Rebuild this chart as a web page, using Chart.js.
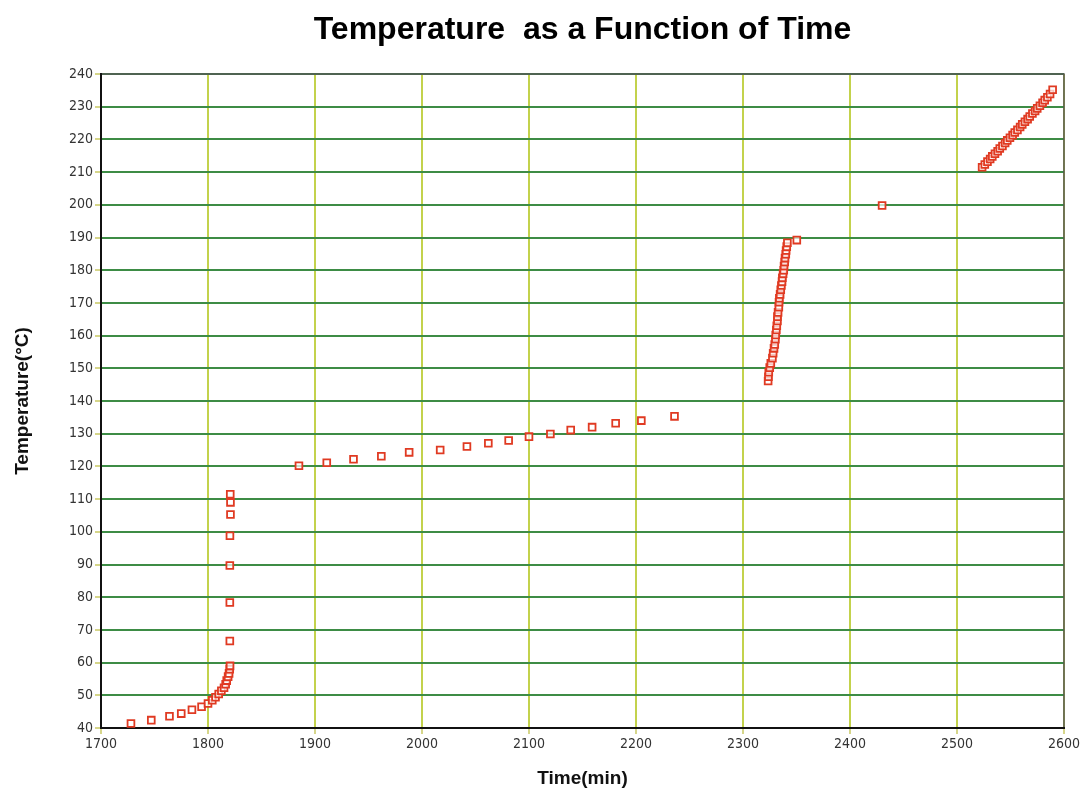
<!DOCTYPE html>
<html>
<head>
<meta charset="utf-8">
<title>Temperature as a Function of Time</title>
<script src="https://cdn.jsdelivr.net/npm/chart.js@4/dist/chart.umd.min.js"></script>
<style>
  html, body { margin: 0; padding: 0; background: #ffffff; }
  #wrap { width: 1082px; height: 790px; position: relative; }
</style>
</head>
<body>
<div id="wrap"><canvas id="chart" width="1082" height="790"></canvas></div>
<script>
// Logged furnace readings: time (min) and temperature (°C)
const timeMin = [
  1728, 1747, 1764, 1775, 1785, 1794, 1800, 1804, 1807, 1810, 1812.5, 1815, 1816.5,
  1817.5, 1818.8, 1819.7, 1820.3, 1820.6, 1820.4, 1820.4, 1820.4, 1820.5, 1821, 1821, 1820.8,
  1885, 1911, 1936, 1962, 1988, 2017, 2042, 2062, 2081, 2100, 2120, 2139, 2159, 2181, 2205, 2236,
  2323.5, 2323.8, 2324.1, 2325, 2326, 2327.5, 2328.2, 2329, 2329.7, 2330.3, 2330.6, 2331.2,
  2331.6, 2332.2, 2332.2, 2332.8, 2333.5, 2333.7, 2334, 2334.7, 2335.3, 2335.9, 2336.5, 2336.8,
  2337.5, 2338.1, 2338.4, 2339, 2339.3, 2340, 2340.3, 2340.9, 2341.5, 2350.3,
  2430,
  2523.5, 2526, 2528.5, 2531, 2533, 2535.5, 2538, 2540, 2542.5, 2545, 2547, 2549.5, 2552, 2554,
  2556.5, 2559, 2561, 2563.5, 2566, 2568, 2570.5, 2573, 2575, 2577.5, 2580, 2582, 2584.5, 2587, 2589.4
];
const tempC = [
  41.4, 42.4, 43.6, 44.4, 45.6, 46.5, 47.5, 48.5, 49.4, 50.4, 51.4, 52.3, 53.4,
  54.5, 55.7, 56.7, 58.0, 59.0, 66.6, 78.4, 89.7, 98.8, 105.3, 109.0, 111.5,
  120.2, 121.1, 122.2, 123.1, 124.3, 125.0, 126.1, 127.1, 127.9, 129.1, 129.9, 131.1, 132.0, 133.2, 134.0, 135.3,
  146.1, 147.4, 148.8, 150.2, 151.5, 153.1, 154.6, 156.1, 157.3, 158.9, 160.2, 161.7,
  163.0, 164.5, 165.8, 167.1, 168.7, 170.2, 171.4, 172.6, 174.0, 175.3, 176.5, 177.7,
  178.9, 180.0, 181.3, 182.5, 183.7, 184.9, 186.0, 187.2, 188.4, 189.2,
  199.8,
  211.5, 212.3, 213.2, 214.0, 214.8, 215.6, 216.4, 217.2, 218.0, 218.9, 219.7, 220.5, 221.3, 222.1,
  222.9, 223.8, 224.6, 225.4, 226.2, 227.0, 227.9, 228.7, 229.5, 230.3, 231.2, 232.0, 232.9, 233.9, 235.2
];

// Axis ticks
const xTicks = [1700, 1800, 1900, 2000, 2100, 2200, 2300, 2400, 2500, 2600];
const yTicks = [40, 50, 60, 70, 80, 90, 100, 110, 120, 130, 140, 150, 160, 170, 180, 190, 200, 210, 220, 230, 240];

const points = timeMin.map((t, i) => ({ x: t, y: tempC[i] }));

const tickFont = { family: "'DejaVu Sans Condensed', 'DejaVu Sans', sans-serif", size: 14 };
const titleFamily = "'Liberation Sans', Arial, sans-serif";

// Plot frame: black axis lines on the left and bottom, grey on top and right
const framePlugin = {
  id: 'plotFrame',
  beforeDatasetsDraw(chart) {
    const { ctx, chartArea: a } = chart;
    ctx.save();
    ctx.lineCap = 'square';
    ctx.strokeStyle = '#555555';
    ctx.lineWidth = 1.5;
    ctx.beginPath();
    ctx.moveTo(a.left, a.top);
    ctx.lineTo(a.right, a.top);
    ctx.lineTo(a.right, a.bottom);
    ctx.stroke();
    ctx.strokeStyle = '#111111';
    ctx.lineWidth = 2;
    ctx.beginPath();
    ctx.moveTo(a.left, a.top);
    ctx.lineTo(a.left, a.bottom);
    ctx.lineTo(a.right, a.bottom);
    ctx.stroke();
    ctx.restore();
  }
};

new Chart(document.getElementById('chart'), {
  type: 'scatter',
  data: {
    datasets: [{
      label: 'Temperature',
      data: points,
      showLine: false,
      pointStyle: 'rect',
      pointRadius: 4.8,
      pointHoverRadius: 4.8,
      borderWidth: 1.8,
      borderColor: '#e03a22',
      backgroundColor: 'rgba(255,255,255,0.7)'
    }]
  },
  options: {
    responsive: false,
    animation: false,
    events: [],
    layout: { padding: { left: 0, right: 17, top: 0, bottom: 0 } },
    plugins: {
      legend: { display: false },
      tooltip: { enabled: false },
      title: {
        display: true,
        fullSize: false,
        text: 'Temperature  as a Function of Time',
        color: '#000000',
        font: { family: titleFamily, size: 32, weight: 'bold', lineHeight: 1.2 },
        padding: { top: 11, bottom: 24.6 }
      }
    },
    scales: {
      x: {
        type: 'linear',
        min: xTicks[0],
        max: xTicks[xTicks.length - 1],
        afterBuildTicks(scale) { scale.ticks = xTicks.map(v => ({ value: v })); },
        afterFit(scale) { scale.height = 62; },
        ticks: {
          font: tickFont, color: '#333333', padding: 2, maxRotation: 0, autoSkip: false,
          callback: (v) => String(v)
        },
        grid: { color: '#c3d24c', lineWidth: 2, tickLength: 6, tickColor: '#d6d68a', drawTicks: true },
        border: { display: false },
        title: {
          display: true,
          text: 'Time(min)',
          color: '#111111',
          font: { family: titleFamily, size: 19, weight: 'bold', lineHeight: 1.2 },
          padding: { top: 0, bottom: 0 }
        }
      },
      y: {
        type: 'linear',
        min: yTicks[0],
        max: yTicks[yTicks.length - 1],
        afterBuildTicks(scale) { scale.ticks = yTicks.map(v => ({ value: v })); },
        afterFit(scale) { scale.width = 101; },
        ticks: { font: tickFont, color: '#333333', padding: 2, autoSkip: false, callback: (v) => String(v) },
        grid: { color: '#3d8c45', lineWidth: 2, tickLength: 6, tickColor: '#d6d68a', drawTicks: true },
        border: { display: false },
        title: {
          display: true,
          text: 'Temperature(°C)',
          color: '#111111',
          font: { family: titleFamily, size: 19, weight: 'bold', lineHeight: 1.2 },
          padding: { top: 11, bottom: 0 }
        }
      }
    }
  },
  plugins: [framePlugin]
});
</script>
</body>
</html>
